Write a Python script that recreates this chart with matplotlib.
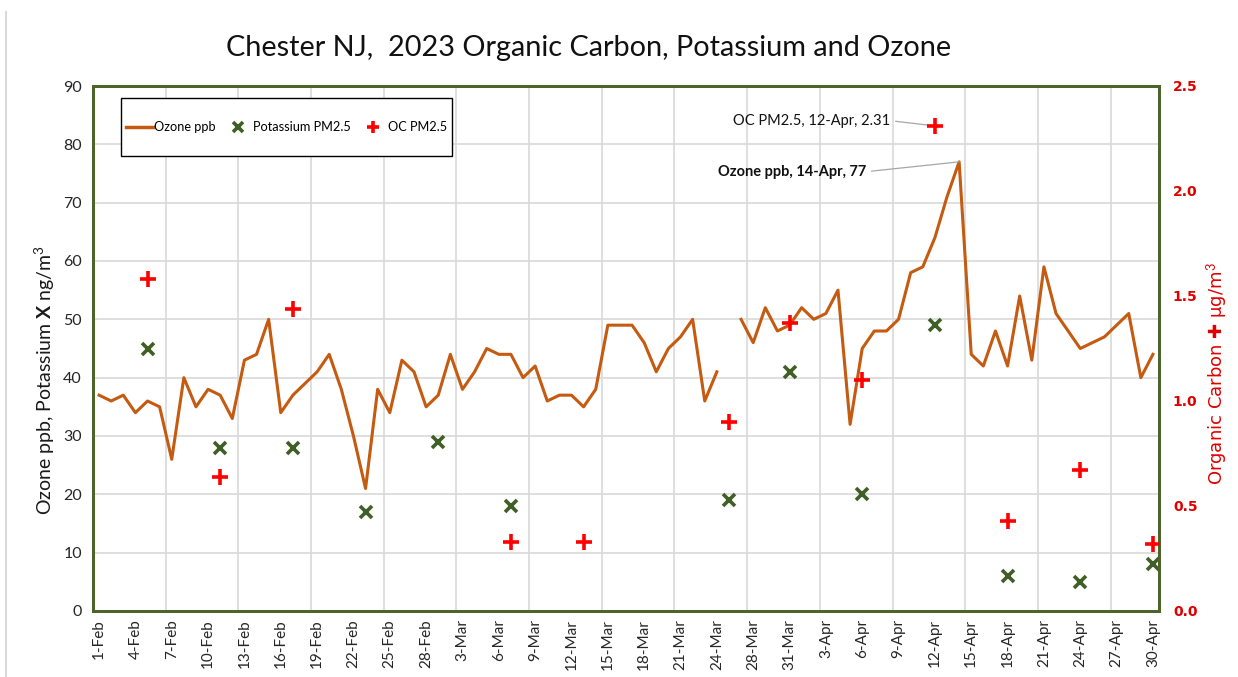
import matplotlib.pyplot as plt
import numpy as np
import pandas as pd
from matplotlib.lines import Line2D
from matplotlib.patches import Rectangle

# daily categories, 26-Mar has no row in the sheet
dates = [d for d in pd.date_range("2023-02-01", "2023-04-30") if d != pd.Timestamp("2023-03-26")]
labels = [f"{d.day}-{d.strftime('%b')}" for d in dates]

ozone = [37, 36, 37, 34, 36, 35, 26, 40, 35, 38, 37, 33, 43, 44, 50, 34, 37, 39, 41, 44,
         38, 30, 21, 38, 34, 43, 41, 35, 37, 44, 38, 41, 45, 44, 44, 40, 42, 36, 37, 37,
         35, 38, 49, 49, 49, 46, 41, 45, 47, 50, 36, 41, np.nan, 50, 46, 52, 48, 49, 52, 50,
         51, 55, 32, 45, 48, 48, 50, 58, 59, 64, 71, 77, 44, 42, 48, 42, 54, 43, 59, 51,
         48, 45, 46, 47, 49, 51, 40, 44]

# 1-in-6 day speciation samples
sample_days = ["5-Feb", "11-Feb", "17-Feb", "23-Feb", "1-Mar", "7-Mar", "13-Mar", "19-Mar",
               "25-Mar", "31-Mar", "6-Apr", "12-Apr", "18-Apr", "24-Apr", "30-Apr"]
potassium = [45, 28, 28, 17, 29, 18, np.nan, np.nan, 19, 41, 20, 49, 6, 5, 8]
oc = [1.58, 0.64, 1.44, np.nan, np.nan, 0.33, 0.33, np.nan, 0.90, 1.37, 1.10, 2.31, 0.43, 0.67, 0.32]

x = np.arange(len(labels))
xs = [labels.index(d) for d in sample_days]

ozone_c = "#C55A11"
k_c = "#3F5F26"
oc_c = "#FF0000"
frame_c = "#4A6429"
grid_c = "#D9D9D9"

plt.rcParams["mathtext.fontset"] = "custom"
plt.rcParams["mathtext.rm"] = "Lato"
plt.rcParams["mathtext.bf"] = "Lato:bold"
plt.rcParams["mathtext.it"] = "Lato:italic"

fig = plt.figure(figsize=(12.38, 6.77), dpi=100)
W, H = 1238, 677
L, R, T, B = 93, 1159, 86, 611
ax = fig.add_axes([L / W, 1 - B / H, (R - L) / W, (B - T) / H])
ax2 = ax.twinx()

# chart area border, only its left edge falls inside the image
fig.add_artist(Line2D([6 / W, 6 / W], [0, 1 - 12 / H], transform=fig.transFigure,
                      color=grid_c, lw=1.5))

ax.plot(x, ozone, color=ozone_c, lw=2.2, zorder=3)
ax.plot(xs, potassium, ls="none", marker="x", ms=8, mew=2.6, color=k_c, zorder=4)
ax2.plot(xs, oc, ls="none", marker="+", ms=11, mew=2.6, color=oc_c, zorder=4)

ax.set_xlim(-0.5, len(labels) - 0.5)
ax.set_ylim(0, 90)
ax2.set_ylim(0, 2.5)
ax.set_yticks(np.arange(0, 91, 10))
ax2.set_yticks(np.arange(0, 2.51, 0.5))
ax2.set_yticklabels([f"{v:.1f}" for v in np.arange(0, 2.51, 0.5)])

ax.set_xticks(x[::3])
ax.set_xticklabels(labels[::3], rotation=90, fontsize=11, family="Lato", color="#262626")
ax.set_xticks(np.arange(5.5, len(labels) - 1, 6), minor=True)
ax.tick_params(axis="x", which="both", length=0, pad=6)
ax.tick_params(axis="y", length=0, pad=8, labelsize=11.5, labelcolor="#262626")
for t in ax.get_yticklabels():
    t.set_family("Lato")
ax2.tick_params(axis="y", length=0, pad=10, labelsize=10, labelcolor="#E00000")
for t in ax2.get_yticklabels():
    t.set_fontweight("bold")
    t.set_family("DejaVu Sans")

ax.grid(axis="y", color=grid_c, lw=1.2)
ax.grid(axis="x", which="minor", color=grid_c, lw=1.2)
ax.set_axisbelow(True)

for a in (ax, ax2):
    for s in a.spines.values():
        s.set_color(frame_c)
        s.set_linewidth(2)

fig.text(589 / W, 1 - 48 / H, "Chester NJ,  2023 Organic Carbon, Potassium and Ozone",
         ha="center", va="center", fontsize=20.8, family="Lato", color="#111111")
fig.text(45 / W, 1 - 380 / H, r"Ozone ppb, Potassium $\mathbf{X}$ ng/m$^3$",
         rotation=90, ha="center", va="center", fontsize=14, family="Lato", color="#1a1a1a")
fig.text(1217 / W, 1 - 374 / H, "Organic Carbon \u271a µg/m$^3$",
         rotation=90, ha="center", va="center", fontsize=13, family="DejaVu Sans", color="#E00000")

# callouts for the two peaks
i_oc = labels.index("12-Apr")
ax2.annotate(f"OC PM2.5, 12-Apr, {oc[sample_days.index('12-Apr')]:.2f}",
             xy=(i_oc, oc[sample_days.index("12-Apr")]), xytext=(65.3, 2.335),
             ha="right", va="center", fontsize=10.5, family="Lato", color="#111111",
             arrowprops=dict(arrowstyle="-", color="#A6A6A6", lw=0.9, relpos=(1, 0.5),
                             shrinkA=2, shrinkB=0))
i_o3 = int(np.nanargmax(ozone))
ax.annotate(f"Ozone ppb, {labels[i_o3]}, {ozone[i_o3]}", xy=(i_o3, ozone[i_o3]),
            xytext=(63.3, 75.3), ha="right", va="center", fontsize=10.5, family="Lato",
            fontweight="bold", color="#111111",
            arrowprops=dict(arrowstyle="-", color="#A6A6A6", lw=0.9, relpos=(1, 0.5),
                            shrinkA=2, shrinkB=0))

# legend box drawn separately so its padding can be wider vertically than sideways
bx0, bx1, by0, by1 = 121, 452, 98, 156
box = Rectangle(((bx0 - L) / (R - L), 1 - (by1 - T) / (B - T)), (bx1 - bx0) / (R - L),
                (by1 - by0) / (B - T), transform=ax2.transAxes, facecolor="white",
                edgecolor="black", lw=1.0, zorder=6)
ax2.add_patch(box)
handles = [Line2D([], [], color=ozone_c, lw=2.5),
           Line2D([], [], ls="none", marker="x", ms=7, mew=2.6, color=k_c),
           Line2D([], [], ls="none", marker="+", ms=9, mew=2.6, color=oc_c)]
leg = ax2.legend(handles, ["Ozone ppb", "Potassium PM2.5", "OC PM2.5"], ncol=3, loc="center",
                 bbox_to_anchor=(((bx0 + bx1) / 2 - L) / (R - L), 1 - ((by0 + by1) / 2 - T) / (B - T)),
                 prop={"family": "Lato", "size": 9.2}, frameon=False, handlelength=2.1,
                 handletextpad=0.1, columnspacing=0.7, borderpad=0, borderaxespad=0)
leg.set_zorder(7)

fig.savefig("out.png", dpi=100, facecolor="white")
